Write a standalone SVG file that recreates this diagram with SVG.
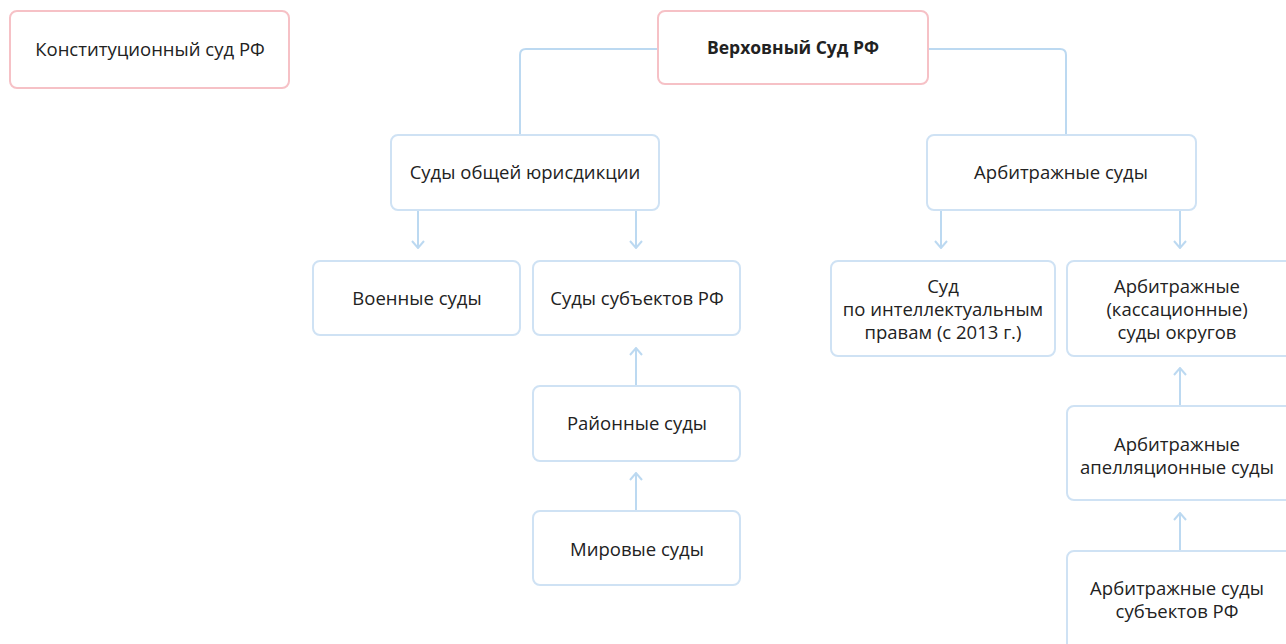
<svg xmlns="http://www.w3.org/2000/svg" width="1286" height="644" viewBox="0 0 1286 644">
<style>
.box{fill:#fff;stroke:#cfe2f4;stroke-width:2}
.red{fill:#fff;stroke:#f6c1c6;stroke-width:2}
.t{font-family:"Open Sans","Noto Sans",sans-serif;font-size:18.5px;fill:#222;text-anchor:middle}
.b{font-weight:bold;font-size:17.5px}
.c{fill:none;stroke:#bcd9f1;stroke-width:2}
</style>
<defs>
<marker id="ah" viewBox="0 0 10 14" refX="9" refY="7" markerWidth="10" markerHeight="14" markerUnits="userSpaceOnUse" orient="auto-start-reverse">
<path d="M2 1 L9 7 L2 13" fill="none" stroke="#bcd9f1" stroke-width="2"/>
</marker>
</defs>
<rect width="1286" height="644" fill="#fff"/>
<g id="connectors">
<path class="c" d="M658 49 H526 Q520 49 520 55 V135"/>
<path class="c" d="M928 49 H1060 Q1066 49 1066 55 V135"/>
<path class="c" d="M418 210 V248" marker-end="url(#ah)"/>
<path class="c" d="M636 210 V248" marker-end="url(#ah)"/>
<path class="c" d="M941 210 V248" marker-end="url(#ah)"/>
<path class="c" d="M1180 210 V248" marker-end="url(#ah)"/>
<path class="c" d="M636 386 V348" marker-end="url(#ah)"/>
<path class="c" d="M636 511 V473" marker-end="url(#ah)"/>
<path class="c" d="M1180 406 V368" marker-end="url(#ah)"/>
<path class="c" d="M1180 551 V513" marker-end="url(#ah)"/>
</g>
<g id="n-konst"><rect class="red" x="10" y="11" width="279" height="77" rx="7"/><text class="t" x="150" y="56">Конституционный суд РФ</text></g>
<g id="n-verh"><rect class="red" x="658" y="11" width="270" height="73" rx="7"/><text class="t b" x="793" y="54">Верховный Суд РФ</text></g>
<g id="n-obsh"><rect class="box" x="391" y="135" width="268" height="75" rx="7"/><text class="t" x="525" y="179">Суды общей юрисдикции</text></g>
<g id="n-arb"><rect class="box" x="927" y="135" width="269" height="75" rx="7"/><text class="t" x="1061" y="179">Арбитражные суды</text></g>
<g id="n-voen"><rect class="box" x="313" y="261" width="207" height="74" rx="7"/><text class="t" x="417" y="305">Военные суды</text></g>
<g id="n-subj"><rect class="box" x="533" y="261" width="207" height="74" rx="7"/><text class="t" x="637" y="305">Суды субъектов РФ</text></g>
<g id="n-rayon"><rect class="box" x="533" y="386" width="207" height="75" rx="7"/><text class="t" x="637" y="430">Районные суды</text></g>
<g id="n-mir"><rect class="box" x="533" y="511" width="207" height="74" rx="7"/><text class="t" x="637" y="556">Мировые суды</text></g>
<g id="n-intel"><rect class="box" x="831" y="261" width="224" height="95" rx="7"/><text class="t" x="943"><tspan x="943" y="292.5">Суд</tspan><tspan x="943" y="315.5">по интеллектуальным</tspan><tspan x="943" y="338.5">правам (с 2013 г.)</tspan></text></g>
<g id="n-kass"><rect class="box" x="1067" y="261" width="226" height="95" rx="7"/><text class="t" x="1177"><tspan x="1177" y="292.5">Арбитражные</tspan><tspan x="1177" y="315.5">(кассационные)</tspan><tspan x="1177" y="338.5">суды округов</tspan></text></g>
<g id="n-apel"><rect class="box" x="1067" y="406" width="226" height="94" rx="7"/><text class="t" x="1177"><tspan x="1177" y="450.5">Арбитражные</tspan><tspan x="1177" y="473.5">апелляционные суды</tspan></text></g>
<g id="n-arbsubj"><rect class="box" x="1067" y="551" width="226" height="100" rx="7"/><text class="t" x="1177"><tspan x="1177" y="594.5">Арбитражные суды</tspan><tspan x="1177" y="617.5">субъектов РФ</tspan></text></g>
</svg>
